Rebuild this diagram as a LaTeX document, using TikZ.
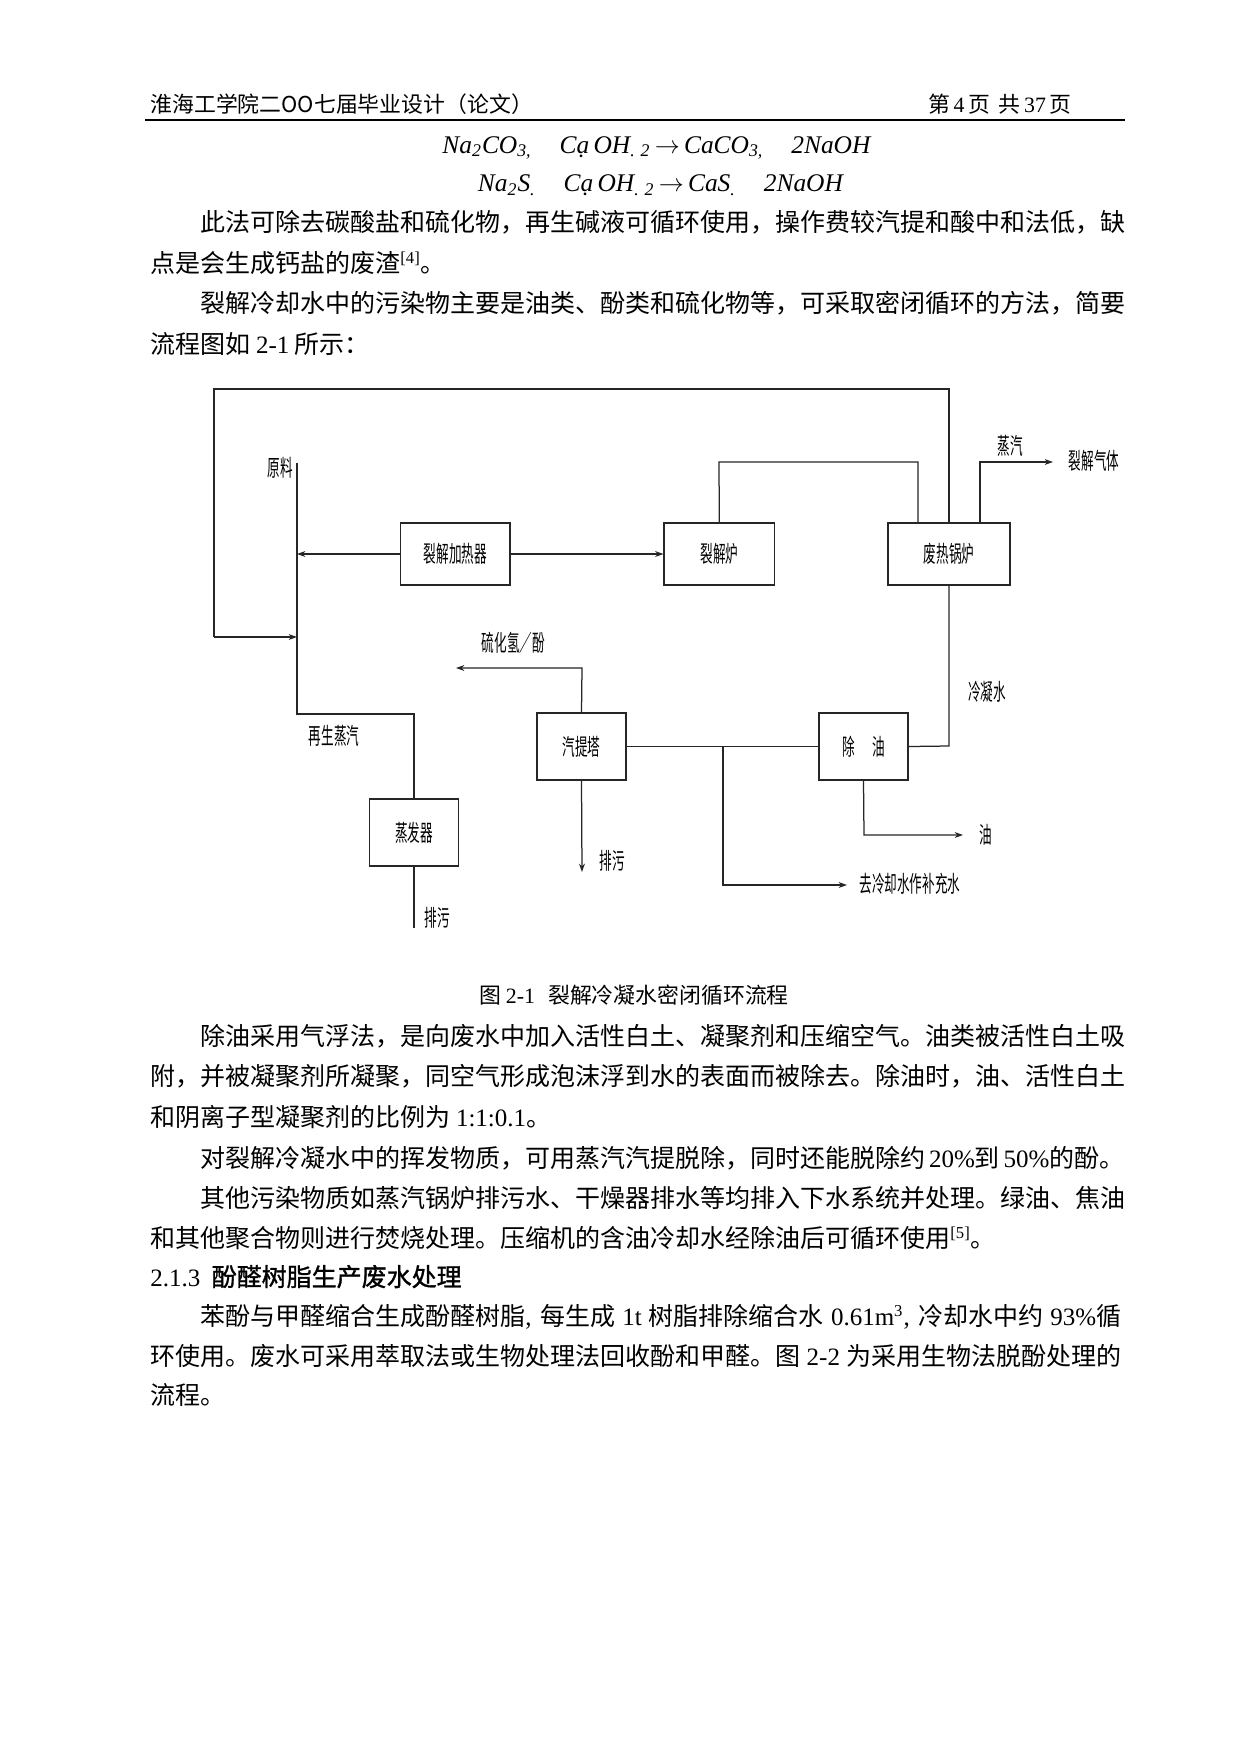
\documentclass[tikz,border=0pt]{standalone}
\usepackage{fontspec}
\usepackage{graphicx}
\setmainfont{Liberation Serif}
\newfontfamily\cjk{Noto Sans CJK SC}
\newfontfamily\cjkb[FakeBold=1.2]{Noto Sans CJK SC}
\usetikzlibrary{arrows.meta}
\XeTeXlinebreaklocale "zh"
\XeTeXlinebreakskip=0pt plus 1pt
\newcommand\tm[1]{{\rmfamily #1}}
\newcommand\nar[1]{\scalebox{0.55}[1]{#1}}
\newcommand\fullline[1]{\hbox to 466pt{#1}}
\newcommand\indline[1]{\hbox to 442pt{#1}}
\tikzset{
  body/.style={anchor=west, inner sep=0pt, font=\cjk\fontsize{12}{12}\selectfont, text height=10.6pt, text depth=1.4pt},
  hdr/.style={inner sep=0pt, font=\cjk\fontsize{10.5}{10.5}\selectfont, text height=9.3pt, text depth=1.2pt},
  eqn/.style={inner sep=0pt, font=\fontsize{12.2}{12.2}\selectfont},
  boxn/.style={draw=black!85, line width=0.6pt, inner sep=0pt, minimum height=29.8pt, font=\cjk\fontsize{11}{11}\selectfont},
  tallbox/.style={boxn, minimum height=32.2pt},
  lab/.style={inner sep=0pt, font=\cjk\fontsize{11}{11}\selectfont},
  ln/.style={line width=0.6pt, draw=black!85},
  arr/.style={ln, -{Stealth[length=4pt,width=2.8pt]}}
}
\begin{document}
\begin{tikzpicture}[x=0.48pt,y=-0.48pt]
\fill[white] (0,0) rectangle (1241,1754);
\useasboundingbox (0,0) rectangle (1241,1754);

% header
\node[hdr, anchor=west] (hl) at (150,104) {淮海工学院二OO七届毕业设计（论文）};
\node[hdr, anchor=east] (hr) at (1072,104) {第\,\tm{4}\,页\ \,共\,\tm{37}\,页};
\draw[line width=1.1pt] (145,120) -- (1125,120);

% equations
\node[eqn] (eq1) at (657,148) {\textit{Na\textsubscript{2}CO\textsubscript{3,}\hspace{1.1em}Cạ\,OH\textsubscript{.\,\,2}\,$\rightarrow$\,CaCO\textsubscript{3,}\hspace{1.1em}2NaOH}};
\node[eqn] (eq2) at (661,185) {\textit{Na\textsubscript{2}S\textsubscript{.}\hspace{1.1em}Cạ\,OH\textsubscript{.\,\,2}\,$\rightarrow$\,CaS\textsubscript{.}\hspace{1.1em}2NaOH}};

% paragraphs before figure
\node[body] (p1) at (200,222) {\indline{此法可除去碳酸盐和硫化物，再生碱液可循环使用，操作费较汽提和酸中和法低，缺}};
\node[body] (p2) at (150,263) {点是会生成钙盐的废渣\textsuperscript{\tm{[4]}}。};
\node[body] (p3) at (200,303) {\indline{裂解冷却水中的污染物主要是油类、酚类和硫化物等，可采取密闭循环的方法，简要}};
\node[body] (p4) at (150,344) {流程图如 \tm{2-1} 所示：};

% ---------- diagram ----------
\node[boxn, minimum width=52.6pt] (heater) at (455.3,554) {\nar{裂解加热器}};
\node[boxn, minimum width=53pt] (furnace) at (719.3,554) {\nar{裂解炉}};
\node[boxn, minimum width=58.6pt] (boiler) at (949,554) {\nar{废热锅炉}};
\node[tallbox, minimum width=43pt] (evap) at (414,832.5) {\nar{蒸发器}};
\node[tallbox, minimum width=42.7pt] (strip) at (581.5,746.5) {\nar{汽提塔}};
\node[tallbox, minimum width=42.7pt] (oilrem) at (863.5,746.5) {\nar{除\hspace{1.4em}油}};

\coordinate (tr) at (949,389);
\coordinate (tl) at (214,389);
\coordinate (bl) at (214,637);
\coordinate (fj) at (297,637);
\coordinate (feedtop) at (297,463);
\coordinate (feedbot) at (297,714);
\coordinate (evapin) at (414,714);
\coordinate (f1) at (719,462);
\coordinate (f2) at (918,462);
\coordinate (g1) at (980,462);
\coordinate (g2) at (1053,462);
\coordinate (c1) at (949,746);
\coordinate (b1) at (723,746);
\coordinate (b2) at (723,885);
\coordinate (b3) at (847,885);
\coordinate (s1) at (582,668);
\coordinate (s2) at (456,668);
\coordinate (s3) at (582,872);
\coordinate (o1) at (864,835);
\coordinate (o2) at (963,835);
\coordinate (e1) at (414,928);

\draw[ln] (boiler.north) -- (tr) -- (tl) -- (bl);
\draw[arr] (bl) -- (fj);
\draw[ln] (feedtop) -- (feedbot) -- (evapin) -- (evap.north);
\draw[arr] (heater.west) -- (heater.west -| feedtop);
\draw[arr] (heater.east) -- (furnace.west);
\draw[ln] (furnace.north) -- (f1) -- (f2) -- (f2 |- boiler.north);
\draw[arr] (g1 |- boiler.north) -- (g1) -- (g2);
\draw[ln] (boiler.south) -- (c1) -- (oilrem.east);
\draw[ln] (strip.east) -- (oilrem.west);
\draw[arr] (b1) -- (b2) -- (b3);
\draw[arr] (strip.north) -- (s1) -- (s2);
\draw[arr] (strip.south) -- (s3);
\draw[arr] (oilrem.south) -- (o1) -- (o2);
\draw[ln] (evap.south) -- (e1);

\node[lab] (lraw) at (280,468) {\nar{原料}};
\node[lab] (lsteam) at (1010,446) {\nar{蒸汽}};
\node[lab] (lgas) at (1094,461) {\nar{裂解气体}};
\node[lab] (lcond) at (987,692) {\nar{冷凝水}};
\node[lab] (lh2s) at (513.5,643) {\nar{硫化氢／酚}};
\node[lab] (ldis1) at (612.5,861) {\nar{排污}};
\node[lab, anchor=west] (lcool) at (859,884) {\nar{去冷却水作补充水}};
\node[lab] (loil) at (986,835) {\nar{油}};
\node[lab] (ldis2) at (437,918) {\nar{排污}};
\node[lab] (lregen) at (334,736) {\nar{再生蒸汽}};

% caption
\node[hdr] (cap) at (634,995) {图 \tm{2-1}\hspace{0.6em}裂解冷凝水密闭循环流程};

% paragraphs after figure
\node[body] (q1) at (200,1036) {\indline{除油采用气浮法，是向废水中加入活性白土、凝聚剂和压缩空气。油类被活性白土吸}};
\node[body] (q2) at (150,1076) {\fullline{附，并被凝聚剂所凝聚，同空气形成泡沫浮到水的表面而被除去。除油时，油、活性白土}};
\node[body] (q3) at (150,1116.5) {和阴离子型凝聚剂的比例为 \tm{1:1:0.1}。};
\node[body] (q4) at (200,1158) {\indline{对裂解冷凝水中的挥发物质，可用蒸汽汽提脱除，同时还能脱除约 \tm{20\%}到 \tm{50\%}的酚。}};
\node[body] (q5) at (200,1198) {\indline{其他污染物质如蒸汽锅炉排污水、干燥器排水等均排入下水系统并处理。绿油、焦油}};
\node[body] (q6) at (150,1238) {和其他聚合物则进行焚烧处理。压缩机的含油冷却水经除油后可循环使用\textsuperscript{\tm{[5]}}。};
\node[body, font=\cjkb\fontsize{12}{12}\selectfont] (h213) at (150,1276.5) {\tm{2.1.3}\hspace{0.45em}酚醛树脂生产废水处理};
\node[body] (q7) at (200,1316) {\indline{苯酚与甲醛缩合生成酚醛树脂\tm{, }每生成 \tm{1t} 树脂排除缩合水 \tm{0.61m\textsuperscript{3}, }冷却水中约 \tm{93\%}循}};
\node[body] (q8) at (150,1356) {\fullline{环使用。废水可采用萃取法或生物处理法回收酚和甲醛。图 \tm{2-2} 为采用生物法脱酚处理的}};
\node[body] (q9) at (150,1395) {流程。};
\end{tikzpicture}
\end{document}
